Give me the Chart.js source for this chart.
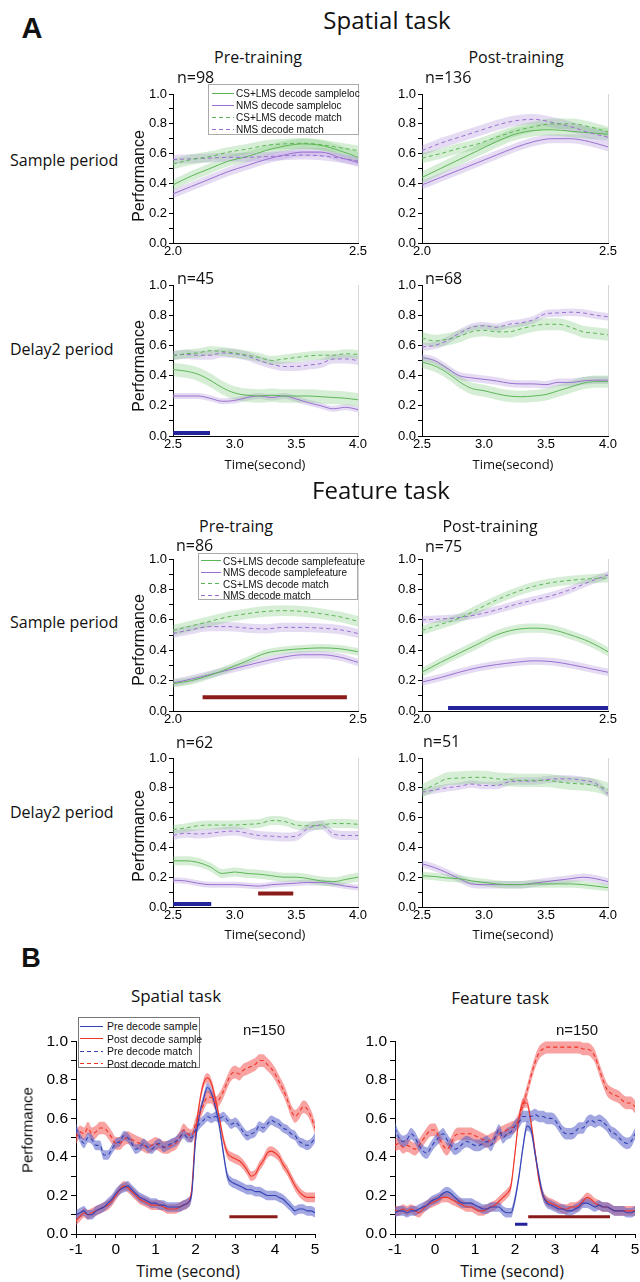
<!DOCTYPE html>
<html><head><meta charset="utf-8">
<script src="https://cdn.jsdelivr.net/npm/chart.js@4.4.0/dist/chart.umd.min.js"></script>
<style>
html,body{margin:0;padding:0;background:#fff;}
#page{position:relative;width:640px;height:1282px;overflow:hidden;background:#fff;}
.t{position:absolute;white-space:nowrap;color:#111;line-height:normal;}
canvas{position:absolute;}
.lg{position:absolute;background:#fff;border:1px solid #aaa;box-sizing:border-box;z-index:5;}
.lg .ln{position:absolute;height:1px;}
.lg .lt{position:absolute;white-space:nowrap;color:#111;font-family:'Liberation Sans',Arial,sans-serif;transform:translateY(-50%);line-height:normal;}
</style></head><body><div id="page"></div>
<script>
// ---------------- x positions (seconds) ----------------
const xSample = [2.0, 2.05, 2.1, 2.15, 2.2, 2.25, 2.3, 2.35, 2.4, 2.45, 2.5];
const xDelay = [2.5, 2.6, 2.7, 2.8, 2.9, 3.0, 3.1, 3.2, 3.3, 3.4, 3.5, 3.6, 3.7, 3.8, 3.9, 4.0];
const xTime = [-1.0,-0.9,-0.8,-0.7,-0.6,-0.5,-0.4,-0.3,-0.2,-0.1,0.0,0.1,0.2,0.3,0.4,0.5,0.6,0.7,0.8,0.9,1.0,1.1,1.2,1.3,1.4,1.5,1.6,1.7,1.8,1.9,2.0,2.1,2.2,2.3,2.4,2.5,2.6,2.7,2.8,2.9,3.0,3.1,3.2,3.3,3.4,3.5,3.6,3.7,3.8,3.9,4.0,4.1,4.2,4.3,4.4,4.5,4.6,4.7,4.8,4.9,5.0];

// ---------------- A: Spatial task ----------------
// sample period, pre-training (n=98)
const spPreSamp_csSample  = [0.39,0.45,0.50,0.55,0.58,0.62,0.65,0.665,0.655,0.62,0.575];
const spPreSamp_nmsSample = [0.33,0.38,0.43,0.48,0.52,0.56,0.59,0.61,0.61,0.575,0.54];
const spPreSamp_csMatch   = [0.53,0.56,0.58,0.61,0.63,0.655,0.665,0.67,0.66,0.64,0.62];
const spPreSamp_nmsMatch  = [0.56,0.565,0.57,0.575,0.575,0.58,0.585,0.59,0.585,0.57,0.55];
const spPreSamp_sem       = [0.035,0.03,0.035,0.03];
// sample period, post-training (n=136)
const spPostSamp_csSample  = [0.44,0.50,0.56,0.62,0.68,0.73,0.755,0.76,0.75,0.74,0.73];
const spPostSamp_nmsSample = [0.39,0.44,0.49,0.54,0.59,0.64,0.68,0.70,0.70,0.68,0.645];
const spPostSamp_csMatch   = [0.57,0.60,0.635,0.665,0.71,0.75,0.78,0.80,0.80,0.78,0.745];
const spPostSamp_nmsMatch  = [0.62,0.67,0.71,0.75,0.79,0.82,0.83,0.81,0.78,0.74,0.71];
const spPostSamp_sem       = [0.04,0.03,0.035,0.035];
// delay2 period, pre-training (n=45)
const spPreDelay_csSample  = [0.44,0.43,0.41,0.37,0.32,0.285,0.27,0.265,0.27,0.265,0.265,0.265,0.26,0.255,0.25,0.24];
const spPreDelay_nmsSample = [0.265,0.265,0.265,0.25,0.23,0.235,0.255,0.265,0.255,0.265,0.245,0.22,0.20,0.18,0.19,0.175];
const spPreDelay_csMatch   = [0.53,0.545,0.55,0.565,0.56,0.55,0.535,0.52,0.50,0.51,0.52,0.53,0.535,0.535,0.545,0.54];
const spPreDelay_nmsMatch  = [0.535,0.54,0.535,0.535,0.55,0.545,0.53,0.50,0.475,0.46,0.46,0.47,0.48,0.51,0.51,0.50];
const spPreDelay_sem       = [0.045,0.02,0.03,0.03];
const spPreDelay_sigBlue   = [2.5, 2.8];
// delay2 period, post-training (n=68)
const spPostDelay_csSample  = [0.49,0.465,0.42,0.36,0.315,0.30,0.28,0.265,0.26,0.265,0.275,0.30,0.325,0.35,0.36,0.36];
const spPostDelay_nmsSample = [0.52,0.50,0.45,0.40,0.385,0.375,0.365,0.35,0.345,0.345,0.34,0.355,0.355,0.365,0.37,0.37];
const spPostDelay_csMatch   = [0.65,0.63,0.64,0.66,0.69,0.70,0.69,0.69,0.71,0.73,0.74,0.74,0.72,0.69,0.68,0.67];
const spPostDelay_nmsMatch  = [0.59,0.60,0.63,0.68,0.72,0.73,0.72,0.74,0.75,0.77,0.81,0.815,0.82,0.815,0.80,0.79];
const spPostDelay_sem       = [0.04,0.025,0.04,0.025];

// ---------------- A: Feature task ----------------
const ftPreSamp_csSample  = [0.18,0.20,0.235,0.28,0.33,0.38,0.40,0.41,0.415,0.41,0.39];
const ftPreSamp_nmsSample = [0.185,0.21,0.24,0.27,0.30,0.33,0.355,0.37,0.37,0.355,0.32];
const ftPreSamp_csMatch   = [0.53,0.56,0.59,0.62,0.64,0.655,0.66,0.655,0.64,0.62,0.59];
const ftPreSamp_nmsMatch  = [0.51,0.535,0.555,0.555,0.545,0.54,0.55,0.55,0.545,0.535,0.51];
const ftPreSamp_sem       = [0.025,0.025,0.035,0.03];
const ftPreSamp_sigRed    = [2.08, 2.47];

const ftPostSamp_csSample  = [0.255,0.32,0.38,0.44,0.50,0.535,0.545,0.535,0.50,0.455,0.39];
const ftPostSamp_nmsSample = [0.19,0.22,0.255,0.285,0.305,0.32,0.33,0.325,0.305,0.28,0.255];
const ftPostSamp_csMatch   = [0.53,0.57,0.61,0.67,0.73,0.78,0.82,0.845,0.86,0.87,0.875];
const ftPostSamp_nmsMatch  = [0.60,0.605,0.615,0.635,0.665,0.70,0.73,0.76,0.80,0.85,0.895];
const ftPostSamp_sem       = [0.03,0.025,0.03,0.025];
const ftPostSamp_sigBlue   = [2.07, 2.5];

const ftPreDelay_csSample  = [0.31,0.31,0.30,0.27,0.225,0.235,0.225,0.22,0.21,0.20,0.20,0.19,0.175,0.17,0.185,0.20];
const ftPreDelay_nmsSample = [0.18,0.175,0.16,0.15,0.15,0.15,0.145,0.14,0.15,0.155,0.16,0.165,0.165,0.155,0.14,0.13];
const ftPreDelay_csMatch   = [0.52,0.53,0.545,0.55,0.55,0.55,0.555,0.56,0.58,0.575,0.55,0.545,0.55,0.56,0.56,0.555];
const ftPreDelay_nmsMatch  = [0.48,0.495,0.49,0.495,0.505,0.51,0.495,0.48,0.475,0.47,0.475,0.53,0.55,0.49,0.48,0.48];
const ftPreDelay_sem       = [0.03,0.02,0.03,0.03];
const ftPreDelay_sigBlue   = [2.5, 2.81];
const ftPreDelay_sigRed    = [3.19, 3.475];

const ftPostDelay_csSample  = [0.21,0.205,0.195,0.19,0.175,0.165,0.155,0.15,0.15,0.155,0.155,0.155,0.155,0.15,0.14,0.13];
const ftPostDelay_nmsSample = [0.29,0.265,0.23,0.19,0.155,0.15,0.15,0.15,0.15,0.16,0.17,0.18,0.19,0.20,0.19,0.17];
const ftPostDelay_csMatch   = [0.78,0.82,0.86,0.865,0.87,0.87,0.86,0.855,0.85,0.85,0.85,0.84,0.83,0.825,0.815,0.79];
const ftPostDelay_nmsMatch  = [0.77,0.785,0.80,0.81,0.825,0.815,0.815,0.84,0.845,0.845,0.855,0.86,0.86,0.85,0.83,0.76];
const ftPostDelay_sem       = [0.025,0.025,0.045,0.025];

// ---------------- B: whole trial, n=150 ----------------
const bSp_preSample = [0.10,0.11,0.12,0.10,0.10,0.12,0.13,0.14,0.16,0.18, 0.21,0.23,0.24,0.25,0.23,0.21,0.19,0.18,0.17,0.16, 0.16,0.15,0.15,0.14,0.14,0.14,0.14,0.15,0.16,0.20, 0.48,0.62,0.70,0.76,0.73,0.66,0.56,0.42,0.30,0.27, 0.26,0.25,0.24,0.23,0.23,0.22,0.22,0.21,0.20,0.20, 0.20,0.19,0.18,0.16,0.14,0.12,0.13,0.13,0.12,0.12, 0.11];
const bSp_postSample = [0.07,0.09,0.11,0.10,0.11,0.12,0.13,0.14,0.15,0.17, 0.20,0.23,0.25,0.24,0.22,0.20,0.18,0.17,0.16,0.15, 0.15,0.15,0.14,0.13,0.13,0.13,0.14,0.15,0.16,0.22, 0.52,0.68,0.78,0.81,0.78,0.70,0.60,0.49,0.42,0.40, 0.39,0.38,0.36,0.33,0.30,0.31,0.35,0.38,0.42,0.43, 0.42,0.40,0.36,0.33,0.29,0.25,0.22,0.20,0.19,0.19, 0.19];
const bSp_preMatch = [0.55,0.50,0.47,0.50,0.49,0.46,0.46,0.41,0.41,0.44, 0.47,0.48,0.51,0.50,0.47,0.44,0.45,0.47,0.45,0.44, 0.46,0.47,0.45,0.46,0.47,0.48,0.50,0.52,0.50,0.50, 0.54,0.57,0.59,0.61,0.60,0.61,0.60,0.61,0.59,0.57, 0.58,0.56,0.53,0.51,0.52,0.53,0.56,0.55,0.57,0.59, 0.58,0.57,0.55,0.54,0.52,0.51,0.48,0.47,0.46,0.47, 0.50];
const bSp_postMatch = [0.50,0.53,0.52,0.55,0.52,0.53,0.55,0.55,0.53,0.50, 0.47,0.47,0.49,0.50,0.49,0.48,0.47,0.46,0.45,0.46, 0.47,0.46,0.45,0.45,0.46,0.47,0.50,0.54,0.52,0.51, 0.57,0.62,0.67,0.71,0.71,0.68,0.70,0.74,0.79,0.83, 0.84,0.83,0.85,0.86,0.87,0.88,0.90,0.90,0.88,0.86, 0.83,0.79,0.75,0.70,0.64,0.61,0.63,0.66,0.65,0.61, 0.55];
const bSp_sem = [0.025,0.025,0.025,0.033];
const bSp_sigRed = [2.85, 4.06];

const bFt_preSample = [0.11,0.12,0.12,0.11,0.12,0.12,0.13,0.14,0.15,0.17, 0.18,0.19,0.21,0.22,0.21,0.19,0.17,0.16,0.16,0.16, 0.15,0.14,0.13,0.13,0.14,0.14,0.14,0.12,0.11,0.11, 0.18,0.30,0.45,0.56,0.54,0.42,0.30,0.20,0.16,0.15, 0.14,0.13,0.13,0.12,0.12,0.13,0.14,0.16,0.16,0.15, 0.14,0.15,0.14,0.14,0.13,0.12,0.12,0.12,0.11,0.11, 0.12];
const bFt_postSample = [0.12,0.12,0.13,0.12,0.13,0.12,0.11,0.13,0.15,0.16, 0.17,0.18,0.19,0.19,0.18,0.17,0.16,0.15,0.14,0.14, 0.13,0.12,0.12,0.13,0.14,0.15,0.17,0.19,0.21,0.25, 0.42,0.60,0.68,0.68,0.58,0.43,0.28,0.20,0.17,0.16, 0.15,0.14,0.13,0.13,0.14,0.14,0.15,0.17,0.19,0.18, 0.16,0.15,0.14,0.14,0.13,0.12,0.12,0.12,0.12,0.12, 0.12];
const bFt_preMatch = [0.55,0.50,0.48,0.49,0.52,0.50,0.46,0.43,0.42,0.45, 0.48,0.50,0.52,0.49,0.46,0.44,0.45,0.47,0.48,0.47, 0.46,0.46,0.47,0.48,0.46,0.50,0.54,0.50,0.52,0.53, 0.56,0.58,0.61,0.61,0.61,0.62,0.61,0.61,0.60,0.60, 0.59,0.56,0.53,0.52,0.52,0.53,0.55,0.55,0.58,0.59, 0.58,0.59,0.58,0.56,0.53,0.52,0.50,0.48,0.47,0.48, 0.52];
const bFt_postMatch = [0.46,0.47,0.45,0.46,0.45,0.44,0.46,0.49,0.52,0.54, 0.54,0.50,0.46,0.44,0.47,0.51,0.52,0.52,0.52,0.52, 0.51,0.50,0.49,0.48,0.49,0.50,0.52,0.53,0.54,0.55, 0.56,0.60,0.67,0.74,0.82,0.89,0.94,0.96,0.97,0.97, 0.97,0.97,0.97,0.97,0.97,0.97,0.97,0.96,0.96,0.95, 0.92,0.86,0.80,0.75,0.73,0.72,0.71,0.69,0.68,0.68, 0.66];
const bFt_sem = [0.025,0.025,0.03,0.033];
const bFt_sigBlue = [2.0, 2.31];
const bFt_sigRed = [2.33, 4.375];

const sigLowLevel = 0.02, sigHighLevel = 0.09, sigMidLevel = 0.05;

// ---------------- text ----------------
const legendSpatial = ['CS+LMS decode sampleloc','NMS decode sampleloc','CS+LMS decode match','NMS decode match'];
const legendFeature = ['CS+LMS decode samplefeature','NMS decode samplefeature','CS+LMS decode match','NMS decode match'];
const legendB = ['Pre decode sample','Post decode sample','Pre decode match','Post decode match'];

// ---------------- styles ----------------
const GREEN='#5cb656', GREEN_BAND='rgba(120,200,115,0.30)';
const PURPLE='#9a6fd0', PURPLE_BAND='rgba(175,145,222,0.32)';
const BLUE='#3242b5', BLUE_BAND='rgba(85,95,200,0.55)';
const RED='#ef3526', RED_BAND='rgba(242,85,85,0.55)';
const NAVY='#23239c', MAROON='#8b1a1a';
const TICKF="'Liberation Sans', Arial, sans-serif";
const TITLEF="'Open Sans', 'Noto Sans', sans-serif";

const page = document.getElementById('page');

function pts(xs, ys, off){ return xs.map((x,i)=>({x:x, y:ys[i]+(off||0)})); }
function series(xs, ys, half, color, band, dashed, lw){
  return [
    {data:pts(xs,ys,half), borderWidth:0, pointRadius:0, fill:'+1', backgroundColor:band, order:2, cubicInterpolationMode:'monotone'},
    {data:pts(xs,ys,-half), borderWidth:0, pointRadius:0, fill:false, order:2, cubicInterpolationMode:'monotone'},
    {data:pts(xs,ys), borderColor:color, borderWidth:lw, borderDash:dashed?[4,3]:[], pointRadius:0, fill:false, order:1, cubicInterpolationMode:'monotone'}
  ];
}
function sigBar(range, level, color, lw){
  return {data:[{x:range[0],y:level},{x:range[1],y:level}], borderColor:color, borderWidth:lw, pointRadius:0, fill:false, order:0, borderCapStyle:'butt'};
}
function aSets(xs, cs, nms, csM, nmsM, sem){
  return [].concat(
    series(xs, csM, sem[2], GREEN, GREEN_BAND, true, 1),
    series(xs, nmsM, sem[3], PURPLE, PURPLE_BAND, true, 1),
    series(xs, cs, sem[0], GREEN, GREEN_BAND, false, 1),
    series(xs, nms, sem[1], PURPLE, PURPLE_BAND, false, 1)
  );
}
function bSets(xs, pre, post, preM, postM, sem){
  return [].concat(
    series(xs, preM, sem[2], BLUE, BLUE_BAND, true, 1.1),
    series(xs, postM, sem[3], RED, RED_BAND, true, 1.1),
    series(xs, pre, sem[0], BLUE, BLUE_BAND, false, 1.1),
    series(xs, post, sem[1], RED, RED_BAND, false, 1.1)
  );
}

const rightBorder = {id:'rightBorder', beforeDatasetsDraw(chart){
  const a=chart.chartArea, ctx=chart.ctx; ctx.save(); ctx.strokeStyle='#d6d6d6'; ctx.lineWidth=1;
  ctx.beginPath(); ctx.moveTo(Math.round(a.right)+0.5,a.top); ctx.lineTo(Math.round(a.right)+0.5,a.bottom); ctx.stroke(); ctx.restore();
}};

const yLabel = v => (Math.round(v*10)%2===0) ? v.toFixed(1) : '';
const xLabelA = v => (Math.abs(v*2-Math.round(v*2))<1e-6) ? v.toFixed(1) : '';
const xLabelB = v => (Math.abs(v-Math.round(v))<1e-6) ? String(Math.round(v)) : '';

function panel(p){
  const padL=p.yW, padT=10, padR=12;
  const w=p.right-p.left, h=p.bottom-p.top;
  const cw=w+padL+padR, ch=h+padT+p.xH;
  const c=document.createElement('canvas');
  c.width=cw; c.height=ch;
  c.style.left=(p.left-padL)+'px'; c.style.top=(p.top-padT)+'px';
  c.style.width=cw+'px'; c.style.height=ch+'px';
  page.appendChild(c);
  new Chart(c.getContext('2d'), {
    type:'line',
    data:{datasets:p.datasets},
    options:{
      responsive:false, animation:false, devicePixelRatio:1, events:[],
      layout:{padding:{left:0, top:padT, right:padR, bottom:0}},
      plugins:{legend:{display:false}, tooltip:{enabled:false}},
      scales:{
        x:{type:'linear', min:p.xMin, max:p.xMax, afterFit:s=>{s.height=p.xH;},
           ticks:{stepSize:p.xStep, autoSkip:false, maxRotation:0, minRotation:0, padding:p.xPad, color:'#000', font:{family:TICKF, size:p.tick}, callback:p.xLabel},
           grid:{drawOnChartArea:false, drawTicks:p.xTick>0, tickLength:p.xTick, color:'#000'},
           border:{color:'#000', width:1}},
        y:{type:'linear', min:0, max:1, afterFit:s=>{s.width=padL;},
           ticks:{stepSize:0.1, autoSkip:false, padding:p.yPad, color:'#000', font:{family:TICKF, size:p.tick}, callback:yLabel},
           grid:{drawOnChartArea:false, drawTicks:true, tickLength:p.yTick, color:'#000'},
           border:{color:'#000', width:1}}
      }
    },
    plugins: p.frame ? [rightBorder] : []
  });
}

function text(str, x, y, o){
  const d=document.createElement('div'); d.className='t'; d.textContent=str;
  d.style.fontFamily=o.font||TITLEF; d.style.fontSize=o.size+'px';
  if(o.bold) d.style.fontWeight='bold';
  d.style.left=x+'px'; d.style.top=y+'px';
  if(o.rot) d.style.transform='translate(-50%,-50%) rotate(-90deg)';
  else if(o.left) d.style.transform='translate(0,-50%)';
  else d.style.transform='translate(-50%,-50%)';
  page.appendChild(d);
}

function legend(L, labels, colors){
  const box=document.createElement('div'); box.className='lg';
  box.style.left=L.x+'px'; box.style.top=L.y+'px'; box.style.width=L.w+'px'; box.style.height=L.h+'px';
  box.style.borderColor=L.border;
  labels.forEach((lab,i)=>{
    const cy=L.r0+i*L.dy;
    const ln=document.createElement('div'); ln.className='ln';
    ln.style.left=L.lx+'px'; ln.style.width=L.lw+'px'; ln.style.top=Math.round(cy-0.5)+'px';
    ln.style.background = (i>=2) ? ('repeating-linear-gradient(90deg,'+colors[i]+' 0px,'+colors[i]+' 4px,transparent 4px,transparent 7px)') : colors[i];
    box.appendChild(ln);
    const t=document.createElement('div'); t.className='lt'; t.textContent=lab;
    t.style.left=L.tx+'px'; t.style.top=cy+'px'; t.style.fontSize=L.fs+'px';
    box.appendChild(t);
  });
  page.appendChild(box);
}

// ---------------- layout ----------------
const A = {yW:40, xH:20, tick:13, xTick:0, xPad:1, yTick:4, yPad:2, frame:true};
const C1={left:173,right:358}, C2={left:422,right:608};
const R1={top:94,bottom:243}, R2={top:285,bottom:436}, R3={top:559,bottom:711}, R4={top:758,bottom:907};
const SAMP={xMin:2.0,xMax:2.5,xStep:0.25,xLabel:xLabelA};
const DEL={xMin:2.5,xMax:4.0,xStep:0.25,xLabel:xLabelA};

panel(Object.assign({}, A, C1, R1, SAMP, {datasets:aSets(xSample, spPreSamp_csSample, spPreSamp_nmsSample, spPreSamp_csMatch, spPreSamp_nmsMatch, spPreSamp_sem)}));
panel(Object.assign({}, A, C2, R1, SAMP, {datasets:aSets(xSample, spPostSamp_csSample, spPostSamp_nmsSample, spPostSamp_csMatch, spPostSamp_nmsMatch, spPostSamp_sem)}));
panel(Object.assign({}, A, C1, R2, DEL, {datasets:aSets(xDelay, spPreDelay_csSample, spPreDelay_nmsSample, spPreDelay_csMatch, spPreDelay_nmsMatch, spPreDelay_sem).concat([sigBar(spPreDelay_sigBlue, sigLowLevel, NAVY, 4)])}));
panel(Object.assign({}, A, C2, R2, DEL, {datasets:aSets(xDelay, spPostDelay_csSample, spPostDelay_nmsSample, spPostDelay_csMatch, spPostDelay_nmsMatch, spPostDelay_sem)}));
panel(Object.assign({}, A, C1, R3, SAMP, {datasets:aSets(xSample, ftPreSamp_csSample, ftPreSamp_nmsSample, ftPreSamp_csMatch, ftPreSamp_nmsMatch, ftPreSamp_sem).concat([sigBar(ftPreSamp_sigRed, sigHighLevel, MAROON, 4)])}));
panel(Object.assign({}, A, C2, R3, SAMP, {datasets:aSets(xSample, ftPostSamp_csSample, ftPostSamp_nmsSample, ftPostSamp_csMatch, ftPostSamp_nmsMatch, ftPostSamp_sem).concat([sigBar(ftPostSamp_sigBlue, sigLowLevel, NAVY, 4)])}));
panel(Object.assign({}, A, C1, R4, DEL, {datasets:aSets(xDelay, ftPreDelay_csSample, ftPreDelay_nmsSample, ftPreDelay_csMatch, ftPreDelay_nmsMatch, ftPreDelay_sem).concat([sigBar(ftPreDelay_sigBlue, sigLowLevel, NAVY, 4), sigBar(ftPreDelay_sigRed, sigHighLevel, MAROON, 4)])}));
panel(Object.assign({}, A, C2, R4, DEL, {datasets:aSets(xDelay, ftPostDelay_csSample, ftPostDelay_nmsSample, ftPostDelay_csMatch, ftPostDelay_nmsMatch, ftPostDelay_sem)}));

const B = {yW:44, xH:26, tick:15.5, xTick:4, xPad:2, yTick:5, yPad:3, frame:false, top:1039, bottom:1234, xMin:-1, xMax:5, xStep:0.5, xLabel:xLabelB};
panel(Object.assign({}, B, {left:76, right:315, datasets:bSets(xTime, bSp_preSample, bSp_postSample, bSp_preMatch, bSp_postMatch, bSp_sem).concat([sigBar(bSp_sigRed, sigHighLevel, MAROON, 3)])}));
panel(Object.assign({}, B, {left:395, right:635, datasets:bSets(xTime, bFt_preSample, bFt_postSample, bFt_preMatch, bFt_postMatch, bFt_sem).concat([sigBar(bFt_sigBlue, sigMidLevel, NAVY, 3), sigBar(bFt_sigRed, sigHighLevel, MAROON, 3)])}));

// ---------------- texts ----------------
text('A', 32, 28, {font:TICKF, size:29, bold:true});
text('Spatial task', 387, 19, {size:24});
text('Pre-training', 258, 57, {size:16});
text('Post-training', 516, 57, {size:16});
text('n=98', 177, 77, {size:16, left:true});
text('n=136', 425, 77, {size:16, left:true});
text('Sample period', 10, 160, {size:16, left:true});
text('Delay2 period', 10, 349, {size:16, left:true});
text('Performance', 139, 176, {font:TICKF, size:16, rot:true});
text('Performance', 139, 366, {font:TICKF, size:16, rot:true});
text('n=45', 177, 278, {size:16, left:true});
text('n=68', 425, 278, {size:16, left:true});
text('Time(second)', 265, 464, {size:13});
text('Time(second)', 513, 464, {size:13});

text('Feature task', 381, 489, {size:24});
text('Pre-traing', 236, 526, {size:16});
text('Post-training', 490, 526, {size:16});
text('n=86', 176, 545, {size:16, left:true});
text('n=75', 425, 546, {size:16, left:true});
text('Sample period', 10, 622, {size:16, left:true});
text('Delay2 period', 10, 812, {size:16, left:true});
text('Performance', 139, 640, {font:TICKF, size:16, rot:true});
text('Performance', 139, 836, {font:TICKF, size:16, rot:true});
text('n=62', 176, 742, {size:16, left:true});
text('n=51', 423, 741, {size:16, left:true});
text('Time(second)', 265, 934, {size:13});
text('Time(second)', 513, 934, {size:13});

text('B', 31, 958, {font:TICKF, size:27, bold:true});
text('Spatial task', 176, 995, {size:17});
text('Feature task', 500, 997, {size:17});
text('n=150', 264, 1029, {font:TICKF, size:15});
text('n=150', 577, 1029, {font:TICKF, size:15});
text('Performance', 27, 1130, {font:TICKF, size:15, rot:true});
text('Time (second)', 188, 1271, {size:16});
text('Time (second)', 512, 1271, {size:16});

// ---------------- legends ----------------
legend({x:208,y:84,w:151,h:51,r0:8,dy:12,lx:3,lw:22,tx:27,fs:10,border:'#aaa'}, legendSpatial, [GREEN,PURPLE,GREEN,PURPLE]);
legend({x:198,y:553,w:160,h:47,r0:6.5,dy:11.5,lx:2,lw:20,tx:24,fs:10,border:'#aaa'}, legendFeature, [GREEN,PURPLE,GREEN,PURPLE]);
legend({x:78,y:1017,w:122,h:51,r0:8,dy:12.5,lx:1,lw:23,tx:28,fs:10.5,border:'#777'}, legendB, [BLUE,RED,BLUE,RED]);
</script></body></html>
